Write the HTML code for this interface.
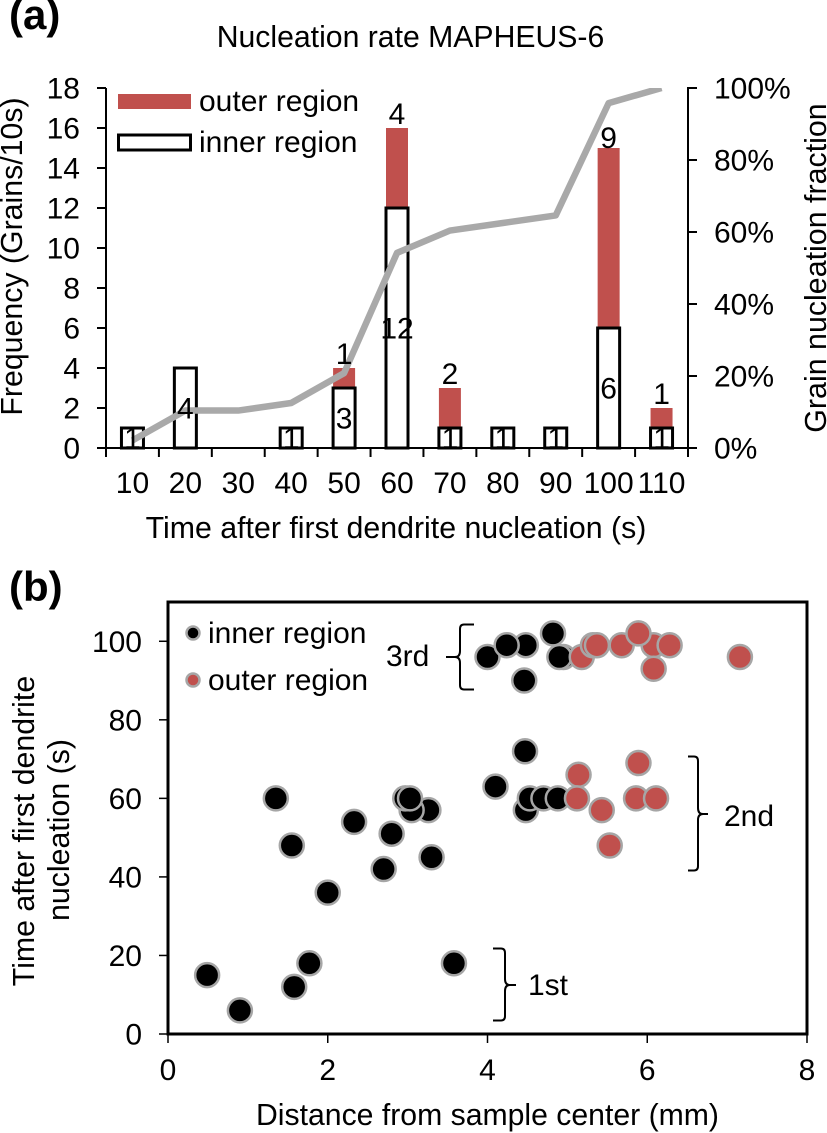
<!DOCTYPE html>
<html lang="en">
<head>
<meta charset="utf-8">
<title>Nucleation rate MAPHEUS-6</title>
<style>
html,body{margin:0;padding:0;background:#fff;}
svg{display:block;}
text{font-family:"Liberation Sans",Arial,sans-serif;fill:#000;}
</style>
</head>
<body>
<svg id="fig" xmlns="http://www.w3.org/2000/svg" width="827" height="1133" viewBox="0 0 827 1133">
  <defs>
    <clipPath id="plot-a-clip"><rect x="106" y="88" width="582" height="362"/></clipPath>
  </defs>
  <text x="9" y="29" font-size="42" font-weight="bold">(a)</text>
  <text x="410.500" y="47" font-size="30.200" text-anchor="middle">Nucleation rate MAPHEUS-6</text>
  <g id="chart-a"></g>
  <text x="396" y="538" font-size="30.300" text-anchor="middle">Time after first dendrite nucleation (s)</text>
  <text transform="translate(22 256.500) rotate(-90)" font-size="30.300" text-anchor="middle">Frequency (Grains/10s)</text>
  <text transform="translate(826 268) rotate(-90)" font-size="30.400" text-anchor="middle">Grain nucleation fraction</text>
  <rect x="118" y="94" width="73" height="15" fill="#c0504d"/>
  <text x="199" y="111" font-size="30">outer region</text>
  <rect x="118.500" y="135" width="72" height="15" fill="#fff" stroke="#000" stroke-width="3"/>
  <text x="199" y="152" font-size="30">inner region</text>

  <text x="9" y="601" font-size="42" font-weight="bold">(b)</text>
  <g id="chart-b"></g>
  <text x="487.500" y="1125" font-size="30.200" text-anchor="middle">Distance from sample center (mm)</text>
  <text transform="translate(34 831) rotate(-90)" font-size="30.300" text-anchor="middle">Time after first dendrite</text>
  <text transform="translate(69 830) rotate(-90)" font-size="30.300" text-anchor="middle">nucleation (s)</text>
  <circle cx="193" cy="633" r="6.500" fill="#000" stroke="#a6a6a6" stroke-width="2.500"/>
  <text x="208" y="643" font-size="30">inner region</text>
  <circle cx="193" cy="680" r="6.500" fill="#c0504d" stroke="#a6a6a6" stroke-width="2.500"/>
  <text x="208" y="690" font-size="30">outer region</text>
  <path d="M474 624.500H464Q460 624.500 460 629V651Q460 657 455 657H446M455 657Q460 657 460 663V685Q460 689.500 464 689.500H474" fill="none" stroke="#000" stroke-width="2"/>
  <text x="386" y="666" font-size="30">3rd</text>
  <path d="M688 756.500H694Q698 756.500 698 761V808Q698 814 703 814H708M703 814Q698 814 698 820V866Q698 870.500 694 870.500H688" fill="none" stroke="#000" stroke-width="2"/>
  <text x="724" y="826" font-size="30">2nd</text>
  <path d="M493 948.500H501Q505 948.500 505 953V979Q505 985 510 985H516M510 985Q505 985 505 991V1016Q505 1020.500 501 1020.500H493" fill="none" stroke="#000" stroke-width="2"/>
  <text x="528" y="995" font-size="30">1st</text>
</svg>
<script>
/* Chart (a) data */
const timeCategories = ["10","20","30","40","50","60","70","80","90","100","110"];
const innerCounts = [1,4,0,1,3,12,1,1,1,6,1];
const outerCounts = [0,0,0,0,1,4,2,0,0,9,1];
const cumulativePercent = [2.1,10.4,10.4,12.5,20.8,54.2,60.4,62.5,64.6,95.8,100];
const freqTicks = [0,2,4,6,8,10,12,14,16,18];
const pctTicks = [0,20,40,60,80,100];

/* Chart (b) data */
const innerDistance = [0.49,0.9,1.58,1.77,3.58,2.0,2.7,3.3,1.55,2.33,2.8,1.35,3.26,3.05,2.97,3.03,4.1,4.47,4.48,4.53,4.7,4.88,4.0,4.48,4.24,4.82,4.95,4.9,4.46];
const innerTime = [15,6,12,18,18,36,42,45,48,54,51,60,57,57,60,60,63,72,57,60,60,60,96,99,99,102,96,96,90];
const outerDistance = [5.18,5.32,5.37,5.68,6.08,6.08,6.28,5.89,7.16,5.14,5.12,5.43,5.53,5.89,5.86,6.11];
const outerTime = [96,99,99,99,99,93,99,102,96,66,60,57,48,69,60,60];
const distanceTicks = [0,2,4,6,8];
const timeTicks = [0,20,40,60,80,100];

const NS = "http://www.w3.org/2000/svg";
function make(parent, tag, attrs, txt){
  const el = document.createElementNS(NS, tag);
  for (const k in attrs) el.setAttribute(k, attrs[k]);
  if (txt !== undefined) el.textContent = txt;
  parent.appendChild(el);
  return el;
}

/* ---------- chart a ---------- */
const A = {l:106, r:688, t:88, b:448, freqMax:18, pctMax:100};
const gA = document.getElementById("chart-a");
const bandA = (A.r - A.l) / timeCategories.length;
const xA = i => A.l + bandA * (i + 0.5);
const yFreq = v => A.b - (A.b - A.t) * v / A.freqMax;
const yPct = v => A.b - (A.b - A.t) * v / A.pctMax;
const barW = 22;
/* small manual label nudge, as placed in the original figure (category index: px upward) */
const outerLabelNudge = {9:-4};

timeCategories.forEach((c,i)=>{
  if (outerCounts[i] > 0) {
    const r = make(gA,"rect",{x:xA(i)-barW/2,y:yFreq(innerCounts[i]+outerCounts[i]),width:barW,height:yFreq(innerCounts[i])-yFreq(innerCounts[i]+outerCounts[i]),fill:"#c0504d"});
    
    
  }
  if (innerCounts[i] > 0) {
    const r = make(gA,"rect",{x:xA(i)-barW/2,y:yFreq(innerCounts[i]),width:barW,height:yFreq(0)-yFreq(innerCounts[i]),fill:"#fff",stroke:"#000","stroke-width":3});
    
    
  }
});

const axisA = make(gA,"path",{fill:"none",stroke:"#000","stroke-width":2,
  d:`M${A.l} ${A.t}V${A.b}M${A.l-9} ${A.b}H${A.r+9}M${A.r} ${A.t}V${A.b}`});



freqTicks.forEach(v=>{
  const t = make(gA,"line",{x1:A.l-9,x2:A.l,y1:yFreq(v),y2:yFreq(v),stroke:"#000","stroke-width":2});
  
  
  const l = make(gA,"text",{x:80,y:yFreq(v)+10.500,"font-size":30,"text-anchor":"end"},String(v));
  
  
});
pctTicks.forEach(v=>{
  const t = make(gA,"line",{x1:A.r-1,x2:A.r+9,y1:yPct(v),y2:yPct(v),stroke:"#000","stroke-width":2});
  
  
  const l = make(gA,"text",{x:714,y:yPct(v)+10.500,"font-size":30},v+"%");
  
  
});
timeCategories.forEach((c,i)=>{
  const t = make(gA,"line",{x1:A.l+bandA*i,x2:A.l+bandA*i,y1:A.b,y2:A.b+9,stroke:"#000","stroke-width":2});
  
  
  const l = make(gA,"text",{x:xA(i),y:493,"font-size":30,"text-anchor":"middle"},c);
  
  
});
const lastT = make(gA,"line",{x1:A.r,x2:A.r,y1:A.b,y2:A.b+9,stroke:"#000","stroke-width":2});



const fracLine = make(gA,"polyline",{fill:"none",stroke:"#a9a9a9","stroke-width":6.500,"stroke-linejoin":"round","clip-path":"url(#plot-a-clip)",
  points:cumulativePercent.map((v,i)=>xA(i)+","+yPct(v)).join(" ")});



timeCategories.forEach((c,i)=>{
  if (innerCounts[i] > 0) {
    const l = make(gA,"text",{x:xA(i),y:yFreq(innerCounts[i]/2)+10.500,"font-size":30,"text-anchor":"middle"},String(innerCounts[i]));
    
    
  }
  if (outerCounts[i] > 0) {
    const nudge = outerLabelNudge[i] || 0;
    const l = make(gA,"text",{x:xA(i),y:yFreq(innerCounts[i]+outerCounts[i])-4-nudge,"font-size":30,"text-anchor":"middle"},String(outerCounts[i]));
    
    
  }
});

/* ---------- chart b ---------- */
const B = {l:168, r:807, t:602, b:1034, xMax:8, yMax:110};
const gB = document.getElementById("chart-b");
const xB = v => B.l + (B.r - B.l) * v / B.xMax;
const yB = v => B.b - (B.b - B.t) * v / B.yMax;

const box = make(gB,"rect",{x:B.l,y:B.t,width:B.r-B.l,height:B.b-B.t,fill:"#fff",stroke:"#000","stroke-width":3});



distanceTicks.forEach(v=>{
  const t = make(gB,"line",{x1:xB(v),x2:xB(v),y1:B.b,y2:B.b+9,stroke:"#000","stroke-width":1.500});
  
  
  const l = make(gB,"text",{x:xB(v),y:1080,"font-size":30,"text-anchor":"middle"},String(v));
  
  
});
timeTicks.forEach(v=>{
  const t = make(gB,"line",{x1:B.l-9,x2:B.l,y1:yB(v),y2:yB(v),stroke:"#000","stroke-width":1.500});
  
  
  const l = make(gB,"text",{x:142,y:yB(v)+10.500,"font-size":30,"text-anchor":"end"},String(v));
  
  
});

innerDistance.forEach((d,i)=>{
  const c = make(gB,"circle",{cx:xB(d),cy:yB(innerTime[i]),r:12,fill:"#000",stroke:"#a6a6a6","stroke-width":2.500});
  
  
});
outerDistance.forEach((d,i)=>{
  const c = make(gB,"circle",{cx:xB(d),cy:yB(outerTime[i]),r:12,fill:"#c0504d",stroke:"#a6a6a6","stroke-width":2.500});
  
  
});
</script>
</body>
</html>
